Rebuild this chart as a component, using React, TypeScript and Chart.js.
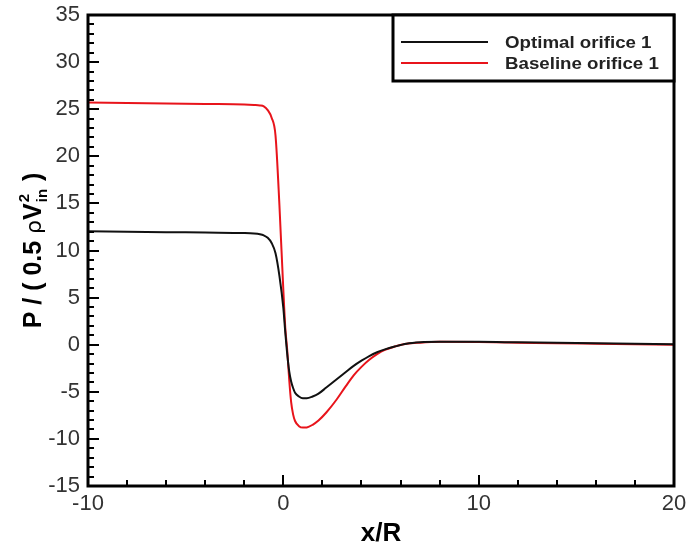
import React, { useEffect, useRef } from "react";
import { Chart, registerables } from "chart.js";

Chart.register(...registerables);

const xValues = [-10, -8, -6, -4, -2, -1.5, -1.2, -1.0, -0.8, -0.6, -0.4, -0.2, 0, 0.1, 0.2, 0.3, 0.4, 0.5, 0.6, 0.8, 1.0, 1.2, 1.5, 1.8, 2.2, 2.7, 3.2, 3.6, 4.0, 4.4, 4.8, 5.2, 5.7, 6.3, 7, 8, 10, 12, 14, 16, 18, 20];

const optimalOrifice = [12.05, 12.0, 11.95, 11.9, 11.85, 11.8, 11.72, 11.6, 11.35, 10.8, 9.7, 7.3, 3.9, 1.3, -1.0, -2.8, -3.9, -4.6, -5.1, -5.5, -5.68, -5.68, -5.5, -5.2, -4.55, -3.73, -2.9, -2.25, -1.7, -1.2, -0.8, -0.5, -0.2, 0.1, 0.25, 0.3, 0.3, 0.25, 0.2, 0.15, 0.1, 0.05];

const baselineOrifice = [25.7, 25.65, 25.6, 25.55, 25.5, 25.45, 25.4, 25.3, 24.9, 24.1, 22.2, 14.8, 5.8, 1.8, -0.6, -3.7, -6.1, -7.4, -8.1, -8.65, -8.8, -8.78, -8.5, -8.05, -7.2, -5.9, -4.4, -3.25, -2.35, -1.6, -1.0, -0.55, -0.2, 0.1, 0.22, 0.3, 0.28, 0.22, 0.15, 0.1, 0.05, 0.0];

const seriesLabels = ["Optimal orifice 1", "Baseline orifice 1"];
const seriesColors = ["#111111", "#e8141b"];

const xTickValues = [-10, 0, 10, 20];
const yTickValues = [-15, -10, -5, 0, 5, 10, 15, 20, 25, 30, 35];

const FONT = "'Liberation Sans', Arial, Helvetica, sans-serif";

const framePlugin = {
  id: "frameAndTicks",
  afterDatasetsDraw(chart: any) {
    const { ctx, chartArea: a, scales } = chart;
    const xs = scales.x;
    const ys = scales.y;
    ctx.save();
    ctx.strokeStyle = "#000";
    ctx.lineWidth = 2;
    for (let v = -15; v <= 35; v += 1) {
      const py = Math.round(ys.getPixelForValue(v));
      const len = v % 5 === 0 ? 11 : 6;
      ctx.beginPath();
      ctx.moveTo(a.left, py);
      ctx.lineTo(a.left + len, py);
      ctx.stroke();
    }
    for (let v = -10; v <= 20; v += 2) {
      const px = Math.round(xs.getPixelForValue(v));
      const len = v % 10 === 0 ? 11 : 6;
      ctx.beginPath();
      ctx.moveTo(px, a.bottom);
      ctx.lineTo(px, a.bottom - len);
      ctx.stroke();
    }
    ctx.lineWidth = 3;
    ctx.strokeRect(a.left, a.top, a.right - a.left, a.bottom - a.top);

    // legend box
    const bw = 281;
    const bh = 66;
    const bx = a.right - bw;
    const by = a.top;
    ctx.fillStyle = "#fff";
    ctx.fillRect(bx, by, bw, bh);
    ctx.lineWidth = 3;
    ctx.strokeRect(bx, by, bw, bh);
    const ds = chart.data.datasets;
    ds.forEach((d: any, i: number) => {
      const ly = by + 27 + i * 21;
      ctx.strokeStyle = d.borderColor;
      ctx.lineWidth = 2;
      ctx.beginPath();
      ctx.moveTo(bx + 8, ly);
      ctx.lineTo(bx + 95, ly);
      ctx.stroke();
      ctx.save();
      ctx.translate(bx + 112, ly + 1);
      ctx.scale(1.1, 1);
      ctx.fillStyle = "#222";
      ctx.font = `bold 17px ${FONT}`;
      ctx.textAlign = "left";
      ctx.textBaseline = "middle";
      ctx.fillText(d.label, 0, 0);
      ctx.restore();
    });

    // y-axis title with super/subscript
    const segs = [
      { t: "P / ( 0.5 ", f: `bold 25px ${FONT}` },
      { t: "ρ", f: `22px 'DejaVu Sans', ${FONT}` },
      { t: "V", f: `bold 25px ${FONT}` },
    ];
    const supF = `bold 15px ${FONT}`;
    const subF = `bold 15px ${FONT}`;
    const tailF = `bold 25px ${FONT}`;
    let total = 0;
    for (const s of segs) {
      ctx.font = s.f;
      total += ctx.measureText(s.t).width;
    }
    ctx.font = supF;
    const supW = ctx.measureText("2").width;
    ctx.font = subF;
    const subW = ctx.measureText("in").width;
    const scriptW = Math.max(supW, subW) + 2;
    ctx.font = tailF;
    const tailW = ctx.measureText(" )").width;
    total += scriptW + tailW;
    const cy = (a.top + a.bottom) / 2;
    ctx.translate(41, cy + total / 2);
    ctx.rotate(-Math.PI / 2);
    ctx.fillStyle = "#000";
    ctx.textAlign = "left";
    ctx.textBaseline = "alphabetic";
    let xpos = 0;
    for (const s of segs) {
      ctx.font = s.f;
      ctx.fillText(s.t, xpos, 0);
      xpos += ctx.measureText(s.t).width;
    }
    ctx.font = supF;
    ctx.fillText("2", xpos + 1, -12);
    ctx.font = subF;
    ctx.fillText("in", xpos + 1, 6);
    xpos += scriptW;
    ctx.font = tailF;
    ctx.fillText(" )", xpos, 0);
    ctx.restore();
  },
};

export default function App() {
  const ref = useRef<HTMLCanvasElement | null>(null);
  useEffect(() => {
    document.body.style.margin = "0";
    const canvas = ref.current;
    if (!canvas) return;
    const chart = new Chart(canvas, {
      type: "line",
      data: {
        datasets: [
          {
            label: seriesLabels[0],
            data: xValues.map((x, i) => ({ x, y: optimalOrifice[i] })),
            borderColor: seriesColors[0],
            borderWidth: 2,
            pointRadius: 0,
            cubicInterpolationMode: "monotone",
            fill: false,
          },
          {
            label: seriesLabels[1],
            data: xValues.map((x, i) => ({ x, y: baselineOrifice[i] })),
            borderColor: seriesColors[1],
            borderWidth: 2,
            pointRadius: 0,
            cubicInterpolationMode: "monotone",
            fill: false,
          },
        ],
      },
      options: {
        animation: false,
        responsive: false,
        devicePixelRatio: 1,
        layout: { padding: { left: 0, top: 15, right: 15, bottom: 0 } },
        plugins: {
          legend: { display: false },
          tooltip: { enabled: false },
        },
        scales: {
          x: {
            type: "linear",
            min: -10,
            max: 20,
            afterBuildTicks: (s: any) => {
              s.ticks = xTickValues.map((v) => ({ value: v }));
            },
            afterFit: (s: any) => {
              s.height = 68;
              s.paddingLeft = 0;
              s.paddingRight = 0;
            },
            grid: { display: false, drawTicks: false },
            border: { display: false },
            ticks: {
              color: "#333",
              font: { family: FONT, size: 22 },
              padding: 5,
              maxRotation: 0,
              autoSkip: false,
            },
            title: {
              display: true,
              text: "x/R",
              color: "#000",
              font: { family: FONT, size: 26, weight: "bold" },
              padding: { top: 0, bottom: 5 },
            },
          },
          y: {
            type: "linear",
            min: -15,
            max: 35,
            afterBuildTicks: (s: any) => {
              s.ticks = yTickValues.map((v) => ({ value: v }));
            },
            afterFit: (s: any) => {
              s.width = 88;
              s.paddingTop = 0;
              s.paddingBottom = 0;
            },
            grid: { display: false, drawTicks: false },
            border: { display: false },
            ticks: {
              color: "#333",
              font: { family: FONT, size: 22 },
              padding: 8,
              autoSkip: false,
            },
          },
        },
      },
      plugins: [framePlugin],
    } as any);
    return () => chart.destroy();
  }, []);
  return (
    <div style={{ width: 689, height: 554 }}>
      <canvas ref={ref} width={689} height={554} style={{ width: 689, height: 554, display: "block" }} />
    </div>
  );
}
